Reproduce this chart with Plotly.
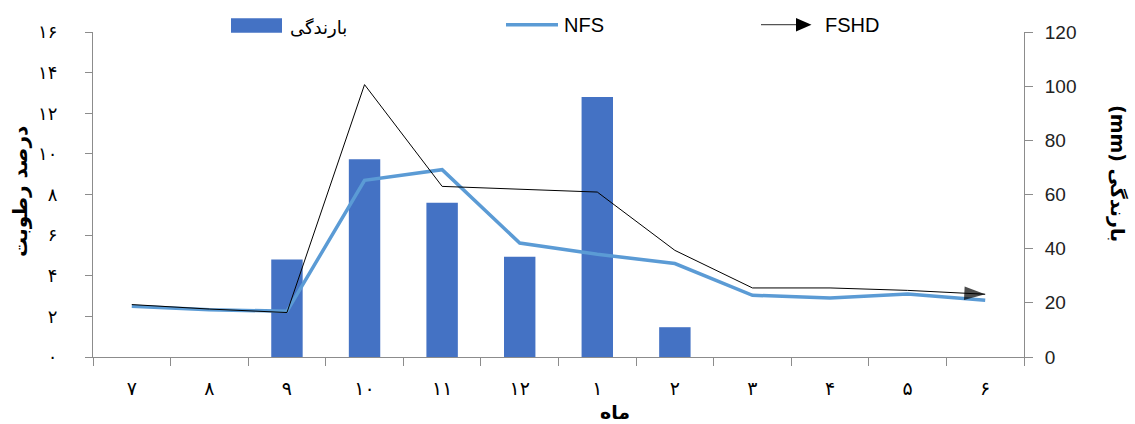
import plotly.graph_objects as go

# Months (Persian numerals), rainfall in mm and two moisture series in percent
months = ["۷", "۸", "۹", "۱۰", "۱۱", "۱۲", "۱", "۲", "۳", "۴", "۵", "۶"]
rainfall_mm = [0, 0, 36, 73, 57, 37, 96, 11, 0, 0, 0, 0]
nfs = [2.5, 2.33, 2.25, 8.7, 9.22, 5.61, 5.06, 4.6, 3.04, 2.9, 3.1, 2.79]
fshd = [2.58, 2.36, 2.19, 13.41, 8.4, 8.26, 8.12, 5.25, 3.4, 3.4, 3.28, 3.09]

moisture_ticks = [0, 2, 4, 6, 8, 10, 12, 14, 16]
moisture_tick_text = ["۰", "۲", "۴", "۶", "۸", "۱۰", "۱۲", "۱۴", "۱۶"]
rain_ticks = [0, 20, 40, 60, 80, 100, 120]

W, H = 1135, 424
L, R, T, B = 93, 111, 32, 67

BAR_BLUE = "#4472C4"
LINE_BLUE = "#5B9BD5"
AXIS_GRAY = "#8c8c8c"
FA_FONT = "DejaVu Sans"
LAT_FONT = "Liberation Sans"


def px_x(x):
    return (x - L) / (W - L - R)


def px_y(y):
    return (H - B - y) / (H - T - B)


fig = go.Figure()

# rainfall bars on the right-hand axis
fig.add_trace(go.Bar(
    x=months, y=rainfall_mm, yaxis="y", name="بارندگی",
    marker=dict(color=BAR_BLUE, line=dict(width=0)),
))

# moisture lines on the left-hand axis (overlaying, so drawn above the bars)
fig.add_trace(go.Scatter(
    x=months, y=nfs, yaxis="y2", name="NFS", mode="lines",
    line=dict(color=LINE_BLUE, width=3.5),
))
fig.add_trace(go.Scatter(
    x=months, y=fshd, yaxis="y2", name="FSHD", mode="lines+markers",
    line=dict(color="black", width=1),
    marker=dict(symbol="arrow", angleref="previous", color="black",
                size=[0] * (len(months) - 1) + [22], line=dict(width=0)),
))

shapes = []
annotations = []

# legend row
shapes.append(dict(type="rect", xref="paper", yref="paper",
                   x0=px_x(231), x1=px_x(282), y0=px_y(32.7), y1=px_y(18.3),
                   fillcolor=BAR_BLUE, line=dict(width=0)))
annotations.append(dict(xref="paper", yref="paper", x=px_x(288), y=px_y(27),
                        xanchor="left", yanchor="middle", showarrow=False,
                        text="بارندگی", font=dict(family=FA_FONT, size=18, color="black")))
shapes.append(dict(type="line", xref="paper", yref="paper",
                   x0=px_x(506), x1=px_x(558), y0=px_y(24.7), y1=px_y(24.7),
                   line=dict(color=LINE_BLUE, width=3.5)))
annotations.append(dict(xref="paper", yref="paper", x=px_x(562), y=px_y(25),
                        xanchor="left", yanchor="middle", showarrow=False,
                        text="NFS", font=dict(family=LAT_FONT, size=20, color="black")))
shapes.append(dict(type="line", xref="paper", yref="paper",
                   x0=px_x(761), x1=px_x(798), y0=px_y(24.7), y1=px_y(24.7),
                   line=dict(color="#555555", width=1.2)))
shapes.append(dict(type="path", xref="paper", yref="paper",
                   path="M {0},{1} L {0},{2} L {3},{4} Z".format(
                       px_x(796), px_y(18), px_y(31.5), px_x(811.5), px_y(24.7)),
                   fillcolor="black", line=dict(width=0)))
annotations.append(dict(xref="paper", yref="paper", x=px_x(823), y=px_y(25),
                        xanchor="left", yanchor="middle", showarrow=False,
                        text="FSHD", font=dict(family=LAT_FONT, size=20, color="black")))

# axis titles
annotations.append(dict(xref="paper", yref="paper", x=px_x(20), y=px_y(192),
                        xanchor="center", yanchor="middle", showarrow=False, textangle=-90,
                        text="<b>درصد رطوبت</b>", font=dict(family=FA_FONT, size=20, color="black")))
annotations.append(dict(xref="paper", yref="paper", x=px_x(1118), y=px_y(173),
                        xanchor="center", yanchor="middle", showarrow=False, textangle=90,
                        text="<b>(mm) بارندگی</b>", font=dict(family=FA_FONT, size=19, color="black")))
annotations.append(dict(xref="paper", yref="paper", x=px_x(615), y=px_y(412),
                        xanchor="center", yanchor="middle", showarrow=False,
                        text="<b>ماه</b>", font=dict(family=FA_FONT, size=19, color="black")))

fig.update_layout(
    width=W, height=H,
    margin=dict(l=L, r=R, t=T, b=B, pad=0),
    paper_bgcolor="white", plot_bgcolor="white",
    showlegend=False,
    bargap=0.595,
    xaxis=dict(
        type="category", tickson="boundaries", ticks="outside", ticklen=8,
        tickcolor=AXIS_GRAY, showline=True, linecolor=AXIS_GRAY, linewidth=1,
        showgrid=False, zeroline=False, range=[-0.5, 11.5], ticklabelstandoff=14,
        tickfont=dict(family=FA_FONT, size=19, color="black"),
    ),
    yaxis=dict(
        side="right", range=[0, 120], tickvals=rain_ticks,
        ticks="outside", ticklen=8, tickcolor=AXIS_GRAY,
        showline=True, linecolor=AXIS_GRAY, linewidth=1,
        showgrid=False, zeroline=False, ticklabelstandoff=8,
        tickfont=dict(family=LAT_FONT, size=19, color="#222222"),
    ),
    yaxis2=dict(
        overlaying="y", side="left", range=[0, 16],
        tickvals=moisture_ticks, ticktext=moisture_tick_text,
        ticks="outside", ticklen=7, tickcolor=AXIS_GRAY,
        showline=True, linecolor=AXIS_GRAY, linewidth=1,
        showgrid=False, zeroline=False, ticklabelstandoff=24,
        tickfont=dict(family=FA_FONT, size=18, color="black"),
    ),
    shapes=shapes,
    annotations=annotations,
)

fig.write_html("out.html")
